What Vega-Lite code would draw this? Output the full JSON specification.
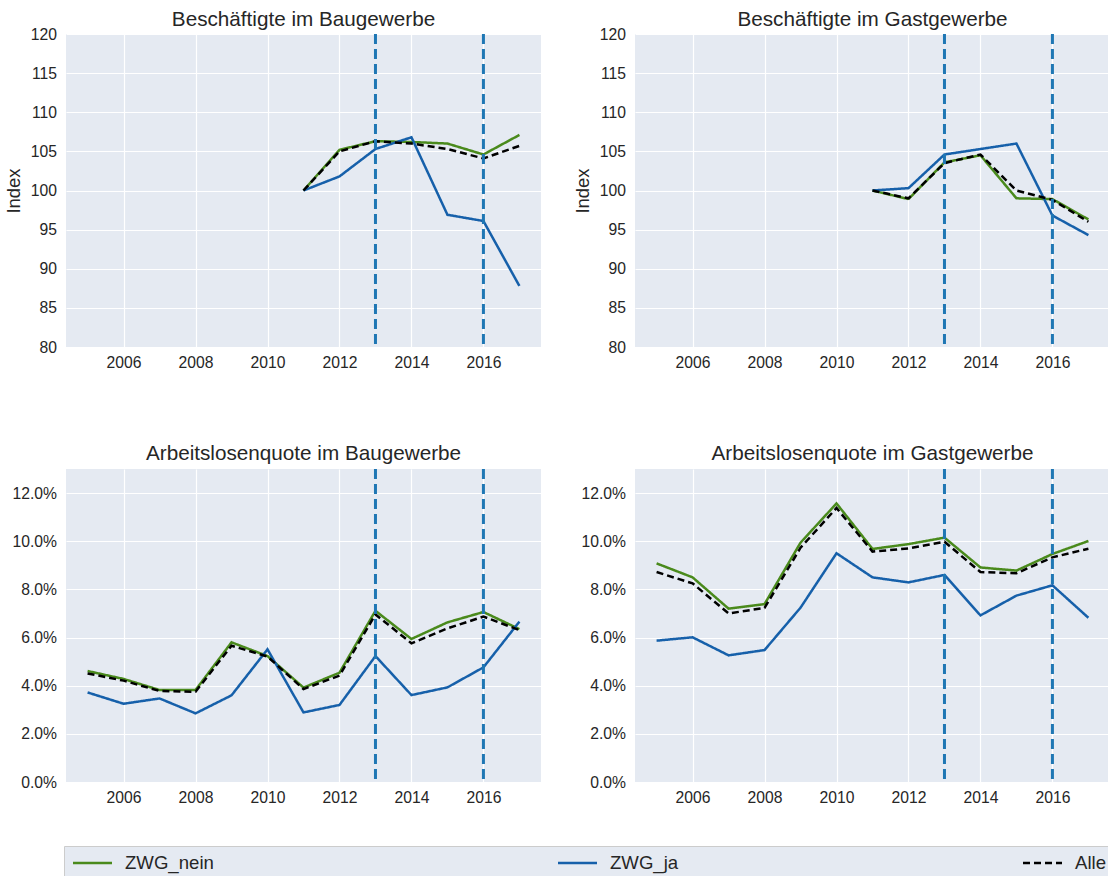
{
  "$schema": "https://vega.github.io/schema/vega-lite/v6.json",
  "padding": {"left": 4, "top": 9, "right": 0, "bottom": 0},
  "background": "white",
  "datasets": {
    "lines": [
      {"p":"A","year":2011,"s":"ZWG_nein","v":100},{"p":"A","year":2012,"s":"ZWG_nein","v":105.2},{"p":"A","year":2013,"s":"ZWG_nein","v":106.3},{"p":"A","year":2014,"s":"ZWG_nein","v":106.2},{"p":"A","year":2015,"s":"ZWG_nein","v":106.0},{"p":"A","year":2016,"s":"ZWG_nein","v":104.6},{"p":"A","year":2017,"s":"ZWG_nein","v":107.1},
      {"p":"A","year":2011,"s":"ZWG_ja","v":100},{"p":"A","year":2012,"s":"ZWG_ja","v":101.8},{"p":"A","year":2013,"s":"ZWG_ja","v":105.3},{"p":"A","year":2014,"s":"ZWG_ja","v":106.8},{"p":"A","year":2015,"s":"ZWG_ja","v":96.9},{"p":"A","year":2016,"s":"ZWG_ja","v":96.1},{"p":"A","year":2017,"s":"ZWG_ja","v":87.8},
      {"p":"A","year":2011,"s":"Alle","v":100},{"p":"A","year":2012,"s":"Alle","v":105.0},{"p":"A","year":2013,"s":"Alle","v":106.3},{"p":"A","year":2014,"s":"Alle","v":106.0},{"p":"A","year":2015,"s":"Alle","v":105.3},{"p":"A","year":2016,"s":"Alle","v":104.1},{"p":"A","year":2017,"s":"Alle","v":105.7},

      {"p":"B","year":2011,"s":"ZWG_nein","v":100},{"p":"B","year":2012,"s":"ZWG_nein","v":98.9},{"p":"B","year":2013,"s":"ZWG_nein","v":103.6},{"p":"B","year":2014,"s":"ZWG_nein","v":104.5},{"p":"B","year":2015,"s":"ZWG_nein","v":99.0},{"p":"B","year":2016,"s":"ZWG_nein","v":98.9},{"p":"B","year":2017,"s":"ZWG_nein","v":96.3},
      {"p":"B","year":2011,"s":"ZWG_ja","v":100},{"p":"B","year":2012,"s":"ZWG_ja","v":100.3},{"p":"B","year":2013,"s":"ZWG_ja","v":104.6},{"p":"B","year":2014,"s":"ZWG_ja","v":105.3},{"p":"B","year":2015,"s":"ZWG_ja","v":106.0},{"p":"B","year":2016,"s":"ZWG_ja","v":96.8},{"p":"B","year":2017,"s":"ZWG_ja","v":94.3},
      {"p":"B","year":2011,"s":"Alle","v":100},{"p":"B","year":2012,"s":"Alle","v":99.0},{"p":"B","year":2013,"s":"Alle","v":103.5},{"p":"B","year":2014,"s":"Alle","v":104.6},{"p":"B","year":2015,"s":"Alle","v":100.0},{"p":"B","year":2016,"s":"Alle","v":98.8},{"p":"B","year":2017,"s":"Alle","v":96.0},

      {"p":"C","year":2005,"s":"ZWG_nein","v":0.0461},{"p":"C","year":2006,"s":"ZWG_nein","v":0.0428},{"p":"C","year":2007,"s":"ZWG_nein","v":0.0382},{"p":"C","year":2008,"s":"ZWG_nein","v":0.0382},{"p":"C","year":2009,"s":"ZWG_nein","v":0.0580},{"p":"C","year":2010,"s":"ZWG_nein","v":0.0523},{"p":"C","year":2011,"s":"ZWG_nein","v":0.0392},{"p":"C","year":2012,"s":"ZWG_nein","v":0.0454},{"p":"C","year":2013,"s":"ZWG_nein","v":0.0711},{"p":"C","year":2014,"s":"ZWG_nein","v":0.0594},{"p":"C","year":2015,"s":"ZWG_nein","v":0.0663},{"p":"C","year":2016,"s":"ZWG_nein","v":0.0706},{"p":"C","year":2017,"s":"ZWG_nein","v":0.0635},
      {"p":"C","year":2005,"s":"ZWG_ja","v":0.0372},{"p":"C","year":2006,"s":"ZWG_ja","v":0.0325},{"p":"C","year":2007,"s":"ZWG_ja","v":0.0347},{"p":"C","year":2008,"s":"ZWG_ja","v":0.0285},{"p":"C","year":2009,"s":"ZWG_ja","v":0.0360},{"p":"C","year":2010,"s":"ZWG_ja","v":0.0551},{"p":"C","year":2011,"s":"ZWG_ja","v":0.0289},{"p":"C","year":2012,"s":"ZWG_ja","v":0.0320},{"p":"C","year":2013,"s":"ZWG_ja","v":0.0523},{"p":"C","year":2014,"s":"ZWG_ja","v":0.0361},{"p":"C","year":2015,"s":"ZWG_ja","v":0.0393},{"p":"C","year":2016,"s":"ZWG_ja","v":0.0476},{"p":"C","year":2017,"s":"ZWG_ja","v":0.0666},
      {"p":"C","year":2005,"s":"Alle","v":0.0451},{"p":"C","year":2006,"s":"Alle","v":0.0421},{"p":"C","year":2007,"s":"Alle","v":0.0378},{"p":"C","year":2008,"s":"Alle","v":0.0375},{"p":"C","year":2009,"s":"Alle","v":0.0566},{"p":"C","year":2010,"s":"Alle","v":0.0521},{"p":"C","year":2011,"s":"Alle","v":0.0386},{"p":"C","year":2012,"s":"Alle","v":0.0442},{"p":"C","year":2013,"s":"Alle","v":0.0696},{"p":"C","year":2014,"s":"Alle","v":0.0576},{"p":"C","year":2015,"s":"Alle","v":0.0638},{"p":"C","year":2016,"s":"Alle","v":0.0687},{"p":"C","year":2017,"s":"Alle","v":0.0631},

      {"p":"D","year":2005,"s":"ZWG_nein","v":0.0908},{"p":"D","year":2006,"s":"ZWG_nein","v":0.0850},{"p":"D","year":2007,"s":"ZWG_nein","v":0.0720},{"p":"D","year":2008,"s":"ZWG_nein","v":0.0739},{"p":"D","year":2009,"s":"ZWG_nein","v":0.0994},{"p":"D","year":2010,"s":"ZWG_nein","v":0.1157},{"p":"D","year":2011,"s":"ZWG_nein","v":0.0968},{"p":"D","year":2012,"s":"ZWG_nein","v":0.0988},{"p":"D","year":2013,"s":"ZWG_nein","v":0.1015},{"p":"D","year":2014,"s":"ZWG_nein","v":0.0891},{"p":"D","year":2015,"s":"ZWG_nein","v":0.0878},{"p":"D","year":2016,"s":"ZWG_nein","v":0.0947},{"p":"D","year":2017,"s":"ZWG_nein","v":0.1001},
      {"p":"D","year":2005,"s":"ZWG_ja","v":0.0587},{"p":"D","year":2006,"s":"ZWG_ja","v":0.0601},{"p":"D","year":2007,"s":"ZWG_ja","v":0.0526},{"p":"D","year":2008,"s":"ZWG_ja","v":0.0548},{"p":"D","year":2009,"s":"ZWG_ja","v":0.0724},{"p":"D","year":2010,"s":"ZWG_ja","v":0.0950},{"p":"D","year":2011,"s":"ZWG_ja","v":0.0850},{"p":"D","year":2012,"s":"ZWG_ja","v":0.0829},{"p":"D","year":2013,"s":"ZWG_ja","v":0.0860},{"p":"D","year":2014,"s":"ZWG_ja","v":0.0692},{"p":"D","year":2015,"s":"ZWG_ja","v":0.0774},{"p":"D","year":2016,"s":"ZWG_ja","v":0.0817},{"p":"D","year":2017,"s":"ZWG_ja","v":0.0682},
      {"p":"D","year":2005,"s":"Alle","v":0.0872},{"p":"D","year":2006,"s":"Alle","v":0.0825},{"p":"D","year":2007,"s":"Alle","v":0.0700},{"p":"D","year":2008,"s":"Alle","v":0.0723},{"p":"D","year":2009,"s":"Alle","v":0.0973},{"p":"D","year":2010,"s":"Alle","v":0.1138},{"p":"D","year":2011,"s":"Alle","v":0.0957},{"p":"D","year":2012,"s":"Alle","v":0.0970},{"p":"D","year":2013,"s":"Alle","v":0.0998},{"p":"D","year":2014,"s":"Alle","v":0.0872},{"p":"D","year":2015,"s":"Alle","v":0.0867},{"p":"D","year":2016,"s":"Alle","v":0.0933},{"p":"D","year":2017,"s":"Alle","v":0.0969}
    ],
    "events": [{"year": 2013}, {"year": 2016}]
  },
  "columns": 2,
  "spacing": {"row": 72, "column": 32},
  "resolve": {"scale": {"color": "shared", "strokeDash": "shared"}, "legend": {"color": "shared", "strokeDash": "shared"}},
  "concat": [
    {
      "title": {"text": "Beschäftigte im Baugewerbe", "offset": -5},
      "width": 475, "height": 313,
      "layer": [
        {
          "data": {"name": "lines"},
          "transform": [{"filter": "datum.p === 'A'"}],
          "mark": {"type": "line", "strokeWidth": 2.5},
          "encoding": {
            "x": {"field": "year", "type": "quantitative", "scale": {"domain": [2004.4, 2017.6], "nice": false, "zero": false}, "axis": {"values": [2006, 2008, 2010, 2012, 2014, 2016], "format": "d", "title": null}},
            "y": {"field": "v", "type": "quantitative", "scale": {"domain": [80, 120], "nice": false, "zero": false}, "axis": {"values": [80, 85, 90, 95, 100, 105, 110, 115, 120], "title": "Index"}},
            "color": {"field": "s", "type": "nominal", "scale": {"domain": ["ZWG_nein", "ZWG_ja", "Alle"], "range": ["#4a8a1c", "#1660aa", "#000000"]}, "title": null},
            "strokeDash": {"field": "s", "type": "nominal", "scale": {"domain": ["ZWG_nein", "ZWG_ja", "Alle"], "range": [[1, 0], [1, 0], [7, 4]]}, "title": null}
          }
        },
        {
          "data": {"name": "events"},
          "mark": {"type": "rule", "color": "#1f77b4", "strokeWidth": 3, "strokeDash": [10, 5]},
          "encoding": {"x": {"field": "year", "type": "quantitative"}}
        }
      ]
    },
    {
      "title": {"text": "Beschäftigte im Gastgewerbe", "offset": -5},
      "width": 475, "height": 313,
      "layer": [
        {
          "data": {"name": "lines"},
          "transform": [{"filter": "datum.p === 'B'"}],
          "mark": {"type": "line", "strokeWidth": 2.5},
          "encoding": {
            "x": {"field": "year", "type": "quantitative", "scale": {"domain": [2004.4, 2017.6], "nice": false, "zero": false}, "axis": {"values": [2006, 2008, 2010, 2012, 2014, 2016], "format": "d", "title": null}},
            "y": {"field": "v", "type": "quantitative", "scale": {"domain": [80, 120], "nice": false, "zero": false}, "axis": {"values": [80, 85, 90, 95, 100, 105, 110, 115, 120], "title": "Index"}},
            "color": {"field": "s", "type": "nominal", "scale": {"domain": ["ZWG_nein", "ZWG_ja", "Alle"], "range": ["#4a8a1c", "#1660aa", "#000000"]}, "title": null},
            "strokeDash": {"field": "s", "type": "nominal", "scale": {"domain": ["ZWG_nein", "ZWG_ja", "Alle"], "range": [[1, 0], [1, 0], [7, 4]]}, "title": null}
          }
        },
        {
          "data": {"name": "events"},
          "mark": {"type": "rule", "color": "#1f77b4", "strokeWidth": 3, "strokeDash": [10, 5]},
          "encoding": {"x": {"field": "year", "type": "quantitative"}}
        }
      ]
    },
    {
      "title": {"text": "Arbeitslosenquote im Baugewerbe", "offset": 3},
      "width": 475, "height": 313,
      "layer": [
        {
          "data": {"name": "lines"},
          "transform": [{"filter": "datum.p === 'C'"}],
          "mark": {"type": "line", "strokeWidth": 2.5},
          "encoding": {
            "x": {"field": "year", "type": "quantitative", "scale": {"domain": [2004.4, 2017.6], "nice": false, "zero": false}, "axis": {"values": [2006, 2008, 2010, 2012, 2014, 2016], "format": "d", "title": null}},
            "y": {"field": "v", "type": "quantitative", "scale": {"domain": [0, 0.13], "nice": false, "zero": false}, "axis": {"values": [0, 0.02, 0.04, 0.06, 0.08, 0.10, 0.12], "format": ".1%", "title": null}},
            "color": {"field": "s", "type": "nominal", "scale": {"domain": ["ZWG_nein", "ZWG_ja", "Alle"], "range": ["#4a8a1c", "#1660aa", "#000000"]}, "title": null},
            "strokeDash": {"field": "s", "type": "nominal", "scale": {"domain": ["ZWG_nein", "ZWG_ja", "Alle"], "range": [[1, 0], [1, 0], [7, 4]]}, "title": null}
          }
        },
        {
          "data": {"name": "events"},
          "mark": {"type": "rule", "color": "#1f77b4", "strokeWidth": 3, "strokeDash": [10, 5]},
          "encoding": {"x": {"field": "year", "type": "quantitative"}}
        }
      ]
    },
    {
      "title": {"text": "Arbeitslosenquote im Gastgewerbe", "offset": 3},
      "width": 475, "height": 313,
      "layer": [
        {
          "data": {"name": "lines"},
          "transform": [{"filter": "datum.p === 'D'"}],
          "mark": {"type": "line", "strokeWidth": 2.5},
          "encoding": {
            "x": {"field": "year", "type": "quantitative", "scale": {"domain": [2004.4, 2017.6], "nice": false, "zero": false}, "axis": {"values": [2006, 2008, 2010, 2012, 2014, 2016], "format": "d", "title": null}},
            "y": {"field": "v", "type": "quantitative", "scale": {"domain": [0, 0.13], "nice": false, "zero": false}, "axis": {"values": [0, 0.02, 0.04, 0.06, 0.08, 0.10, 0.12], "format": ".1%", "title": null}},
            "color": {"field": "s", "type": "nominal", "scale": {"domain": ["ZWG_nein", "ZWG_ja", "Alle"], "range": ["#4a8a1c", "#1660aa", "#000000"]}, "title": null},
            "strokeDash": {"field": "s", "type": "nominal", "scale": {"domain": ["ZWG_nein", "ZWG_ja", "Alle"], "range": [[1, 0], [1, 0], [7, 4]]}, "title": null}
          }
        },
        {
          "data": {"name": "events"},
          "mark": {"type": "rule", "color": "#1f77b4", "strokeWidth": 3, "strokeDash": [10, 5]},
          "encoding": {"x": {"field": "year", "type": "quantitative"}}
        }
      ]
    }
  ],
  "config": {
    "font": "Liberation Sans",
    "view": {"fill": "#e5eaf2", "stroke": null},
    "axis": {
      "domain": false, "ticks": false, "gridColor": "#ffffff", "gridWidth": 1.2, "gridOpacity": 1,
      "labelFont": "Liberation Sans", "labelFontSize": 15.7, "labelColor": "#262626",
      "titleFont": "Liberation Sans", "titleFontSize": 18.4, "titleFontWeight": "normal", "titleColor": "#262626", "titlePadding": 7
    },
    "axisX": {"labelPadding": 8},
    "axisY": {"labelPadding": 9.5},
    "title": {"font": "Liberation Sans", "fontSize": 20.7, "fontWeight": "normal", "color": "#262626"},
    "legend": {
      "orient": "none", "legendX": -2, "legendY": 812,
      "direction": "horizontal", "columns": 3, "columnPadding": 339,
      "symbolType": "M-1.95,0H1.95", "symbolSize": 400, "symbolStrokeWidth": 2.5, "symbolOffset": 12,
      "labelFont": "Liberation Sans", "labelFontSize": 18.6, "labelColor": "#262626", "labelOffset": 21,
      "fillColor": "#e5eaf2", "strokeColor": "#cccccc", "padding": 5, "cornerRadius": 0
    }
  }
}
